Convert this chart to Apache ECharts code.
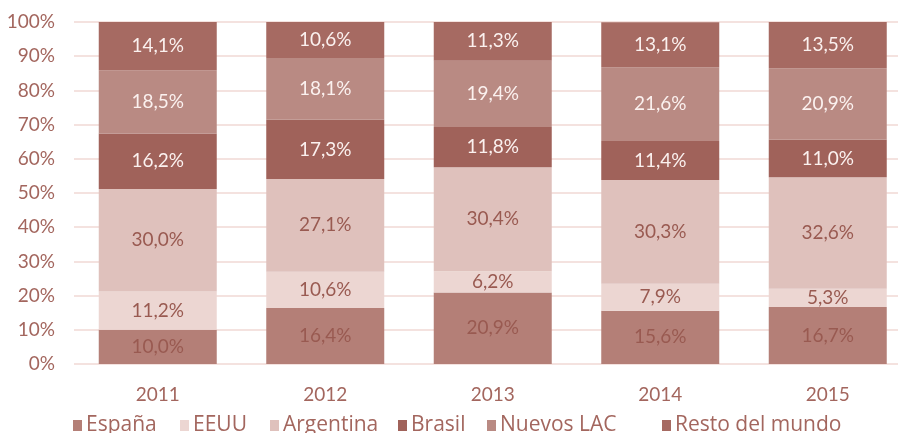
<!DOCTYPE html>
<html><head><meta charset="utf-8">
<script src="https://cdn.jsdelivr.net/npm/echarts@6/dist/echarts.min.js"></script>
<style>html,body{margin:0;padding:0;background:#fff}#c{width:898px;height:433px}</style>
</head><body><div id="c"></div>
<script>
const categories = ['2011','2012','2013','2014','2015'];
const espana    = [10.0, 16.4, 20.9, 15.6, 16.7];
const eeuu      = [11.2, 10.6, 6.2, 7.9, 5.3];
const argentina = [30.0, 27.1, 30.4, 30.3, 32.6];
const brasil    = [16.2, 17.3, 11.8, 11.4, 11.0];
const nuevosLAC = [18.5, 18.1, 19.4, 21.6, 20.9];
const resto     = [14.1, 10.6, 11.3, 13.1, 13.5];
const seriesNames = ['España','EEUU','Argentina','Brasil','Nuevos LAC','Resto del mundo'];
const yTicks = [0,10,20,30,40,50,60,70,80,90,100];

const FONT = 'Lato';
const colors = ['#b47f77','#ecd6d2','#dfc1bc','#a0625a','#b98a83','#a66a62'];
const labelColors = ['#995a51','#995a51','#995a51','#fbf1ef','#fbf1ef','#fbf1ef'];
const dataSets = [espana, eeuu, argentina, brasil, nuevosLAC, resto];
const legendLefts = [73, 180, 270, 398, 487, 662];

const chart = echarts.init(document.getElementById('c'));
chart.setOption({
  animation: false,
  grid: {left: 74, top: 22, width: 837.5, height: 342, containLabel: false, outerBoundsMode: 'none'},
  xAxis: {
    type: 'category', data: categories,
    axisLine: {show: false}, axisTick: {show: false},
    axisLabel: {color: '#a3665e', fontFamily: FONT, fontSize: 19, margin: 21}
  },
  yAxis: {
    type: 'value', min: 0, max: 100, interval: 10,
    axisLabel: {color: '#a3665e', fontFamily: FONT, fontSize: 19, margin: 19,
      formatter: v => yTicks.includes(v) ? v + '%' : ''},
    splitLine: {lineStyle: {color: '#f0d8d4', width: 1.5}},
    axisLine: {show: false}, axisTick: {show: false}
  },
  legend: seriesNames.map((n, i) => ({
    data: [n], left: legendLefts[i], top: 415,
    icon: 'rect', itemWidth: 9, itemHeight: 11, itemGap: 0,
    textStyle: {color: '#a3665e', fontFamily: 'Open Sans', fontSize: 21, padding: [0,0,0,-1]},
    padding: 0
  })),
  series: seriesNames.map((n, i) => ({
    name: n, type: 'bar', stack: 'total', barWidth: 118,
    data: dataSets[i],
    itemStyle: {color: colors[i]},
    label: {show: true, position: 'inside', color: labelColors[i],
      fontFamily: FONT, fontSize: 19,
      formatter: p => p.value.toFixed(1).replace('.', ',') + '%'}
  }))
});
</script></body></html>
